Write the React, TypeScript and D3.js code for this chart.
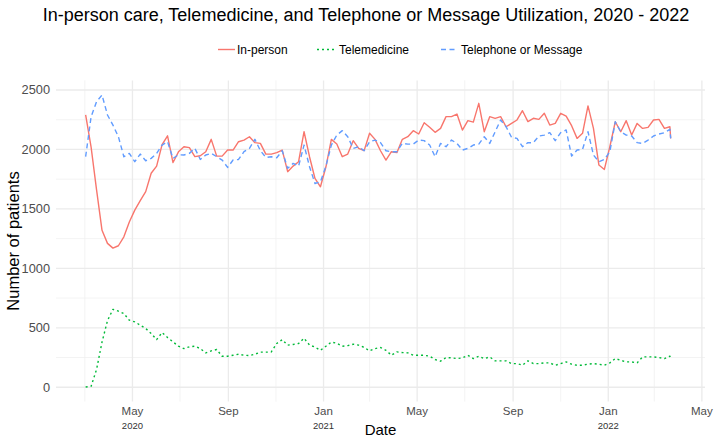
import React from "react";
import * as d3 from "d3";

const chartTitle =
  "In-person care, Telemedicine, and Telephone or Message Utilization, 2020 - 2022";
const seriesNames = ["In-person", "Telemedicine", "Telephone or Message"];
const seriesColors = ["#F8766D", "#00BA38", "#619CFF"];
const seriesDash = ["none", "2,3", "5,3.5"];

// weekly observations starting on this date, plus one final partial-week point
const firstWeek = "2020-03-02";
const lastDate = "2022-03-22";

const inPerson = [
  2290, 2020, 1660, 1320, 1210, 1170, 1190, 1265, 1390, 1490, 1570, 1645, 1800, 1860, 2040, 2115, 1890, 1980,
  2023, 2015, 1940, 1947, 1981, 2085, 1944, 1944, 1995, 1995, 2065, 2079, 2107, 2057, 2051, 1961, 1961, 1973,
  1995, 1813, 1860, 1897, 2149, 1939, 1756, 1686, 1852, 2085, 2046, 1939, 1961, 2074, 2009, 1990, 2136, 2085,
  1989, 1911, 1981, 1973, 2085, 2107, 2158, 2130, 2225, 2186, 2144, 2177, 2276, 2276, 2298, 2163, 2242, 2230,
  2388, 2149, 2276, 2262, 2276, 2191, 2219, 2248, 2326, 2234, 2262, 2253, 2304, 2205, 2219, 2304, 2281, 2200,
  2093, 2136, 2366, 2177, 1869, 1832, 2023, 2233, 2149, 2242, 2121, 2219, 2177, 2186, 2248, 2253, 2177, 2191,
  2093,
];

const telemedicine = [
  2, 8, 150, 380, 560, 655, 640, 620, 564, 550, 522, 494, 452, 401, 460, 418, 382, 345,
  325, 340, 345, 325, 289, 306, 317, 261, 261, 269, 278, 269, 266, 278, 295, 295, 297, 368,
  400, 354, 360, 368, 412, 355, 338, 311, 345, 380, 370, 345, 350, 362, 354, 335, 306, 325,
  334, 311, 269, 297, 292, 289, 269, 269, 269, 261, 233, 219, 250, 247, 241, 247, 269, 241,
  261, 241, 255, 222, 222, 222, 199, 199, 185, 222, 199, 199, 205, 205, 185, 199, 213, 194,
  185, 185, 194, 199, 194, 185, 205, 241, 227, 213, 213, 205, 255, 255, 255, 250, 241, 261,
  250,
];

const telephone = [
  1939, 2275, 2402, 2458, 2290, 2205, 2107, 1939, 1967, 1897, 1961, 1905, 1925, 1967, 2037, 2065, 1925, 1955,
  1953, 1967, 2009, 1916, 1953, 1967, 1939, 1911, 1849, 1911, 1916, 1981, 2009, 2085, 1990, 1933, 1939, 1930,
  1989, 1841, 1883, 1860, 2037, 1855, 1714, 1728, 1860, 2037, 2121, 2158, 2107, 2009, 2023, 1990, 2065, 2079,
  2057, 1989, 1981, 1981, 2051, 2045, 2045, 2079, 2074, 2037, 1939, 2051, 2023, 2079, 2051, 1995, 2009, 2037,
  2045, 2107, 2051, 2149, 2248, 2191, 2102, 2093, 2023, 2057, 2057, 2113, 2121, 2141, 2074, 2141, 2164, 1945,
  1995, 2000, 2149, 1953, 1897, 1916, 1981, 2233, 2149, 2121, 2113, 2057, 2051, 2079, 2113, 2130, 2141, 2169,
  2093,
];

const yTicks = [0, 500, 1000, 1500, 2000, 2500];
const yMinorTicks = [250, 750, 1250, 1750, 2250];
const xTickDates = ["2020-05-01", "2020-09-01", "2021-01-01", "2021-05-01", "2021-09-01", "2022-01-01", "2022-05-01"];
const xTickMonths = ["May", "Sep", "Jan", "May", "Sep", "Jan", "May"];
const xTickYears = ["2020", "", "2021", "", "", "2022", ""];
const xMinorDates = ["2020-03-01", "2020-07-01", "2020-11-01", "2021-03-01", "2021-07-01", "2021-11-01", "2022-03-01"];
const xLimits = ["2020-01-24", "2022-05-05"];

const W = 714;
const H = 446;
const FONT = "'Liberation Sans', Arial, Helvetica, sans-serif";

const parse = d3.utcParse("%Y-%m-%d");

export default function App() {
  const start = parse(firstWeek) as Date;
  const dates: Date[] = inPerson.slice(0, -1).map((_, i) => d3.utcDay.offset(start, 7 * i));
  dates.push(parse(lastDate) as Date);

  const series = [inPerson, telemedicine, telephone];

  const panel = { left: 56, right: 705, top: 80.4, bottom: 401.6 };

  const x = d3
    .scaleUtc()
    .domain(xLimits.map((d) => parse(d) as Date))
    .range([panel.left, panel.right]);

  const all = series.flat();
  const [lo, hi] = d3.extent(all) as [number, number];
  const pad = (hi - lo) * 0.05;
  const y = d3.scaleLinear().domain([lo - pad, hi + pad]).range([panel.bottom, panel.top]);

  const line = d3
    .line<number>()
    .x((_, i) => x(dates[i]))
    .y((d) => y(d));

  const legendItems = [
    { sx: 218, tx: 237 },
    { sx: 317, tx: 339 },
    { sx: 441, tx: 461 },
  ];

  return (
    <svg
      width={W}
      height={H}
      style={{ position: "absolute", left: 0, top: 0, background: "#fff" }}
      fontFamily={FONT}
    >
      <rect x={0} y={0} width={W} height={H} fill="#fff" />
      {/* minor grid */}
      {yMinorTicks.map((t) => (
        <line key={"ym" + t} x1={panel.left} x2={panel.right} y1={y(t)} y2={y(t)} stroke="#F0F0F0" strokeWidth={0.8} />
      ))}
      {xMinorDates.map((d) => (
        <line
          key={"xm" + d}
          x1={x(parse(d) as Date)}
          x2={x(parse(d) as Date)}
          y1={panel.top}
          y2={panel.bottom}
          stroke="#F0F0F0"
          strokeWidth={0.8}
        />
      ))}
      {/* major grid */}
      {yTicks.map((t) => (
        <line key={"y" + t} x1={panel.left} x2={panel.right} y1={y(t)} y2={y(t)} stroke="#EBEBEB" strokeWidth={1.3} />
      ))}
      {xTickDates.map((d) => (
        <line
          key={"x" + d}
          x1={x(parse(d) as Date)}
          x2={x(parse(d) as Date)}
          y1={panel.top}
          y2={panel.bottom}
          stroke="#EBEBEB"
          strokeWidth={1.3}
        />
      ))}

      {/* series */}
      {series.map((s, k) => (
        <path
          key={seriesNames[k]}
          d={line(s) || ""}
          fill="none"
          stroke={seriesColors[k]}
          strokeWidth={1.4}
          strokeDasharray={seriesDash[k] === "none" ? undefined : seriesDash[k]}
          strokeLinejoin="round"
        />
      ))}

      {/* y axis labels */}
      {yTicks.map((t) => (
        <text key={"yl" + t} x={50} y={y(t)} dy="0.35em" textAnchor="end" fontSize={12.8} fill="#4D4D4D">
          {t}
        </text>
      ))}
      {/* x axis labels */}
      {xTickDates.map((d, i) => (
        <g key={"xl" + d}>
          <text x={x(parse(d) as Date)} y={415} textAnchor="middle" fontSize={11.5} fill="#4D4D4D">
            {xTickMonths[i]}
          </text>
          {xTickYears[i] && (
            <text x={x(parse(d) as Date)} y={429} textAnchor="middle" fontSize={9.5} fill="#333">
              {xTickYears[i]}
            </text>
          )}
        </g>
      ))}

      {/* axis titles */}
      <text x={(panel.left + panel.right) / 2} y={435} textAnchor="middle" fontSize={15} fill="#000">
        Date
      </text>
      <text
        transform={`translate(19,${(panel.top + panel.bottom) / 2}) rotate(-90)`}
        textAnchor="middle"
        fontSize={16.5}
        fill="#000"
      >
        Number of patients
      </text>

      {/* title */}
      <text x={366} y={21} textAnchor="middle" fontSize={18} fill="#000">
        {chartTitle}
      </text>

      {/* legend */}
      {legendItems.map((it, k) => (
        <g key={"lg" + k}>
          <line
            x1={it.sx}
            x2={it.sx + 17}
            y1={49.5}
            y2={49.5}
            stroke={seriesColors[k]}
            strokeWidth={1.4}
            strokeDasharray={seriesDash[k] === "none" ? undefined : seriesDash[k]}
          />
          <text x={it.tx} y={49.5} dy="0.35em" fontSize={12} fill="#000">
            {seriesNames[k]}
          </text>
        </g>
      ))}
    </svg>
  );
}
